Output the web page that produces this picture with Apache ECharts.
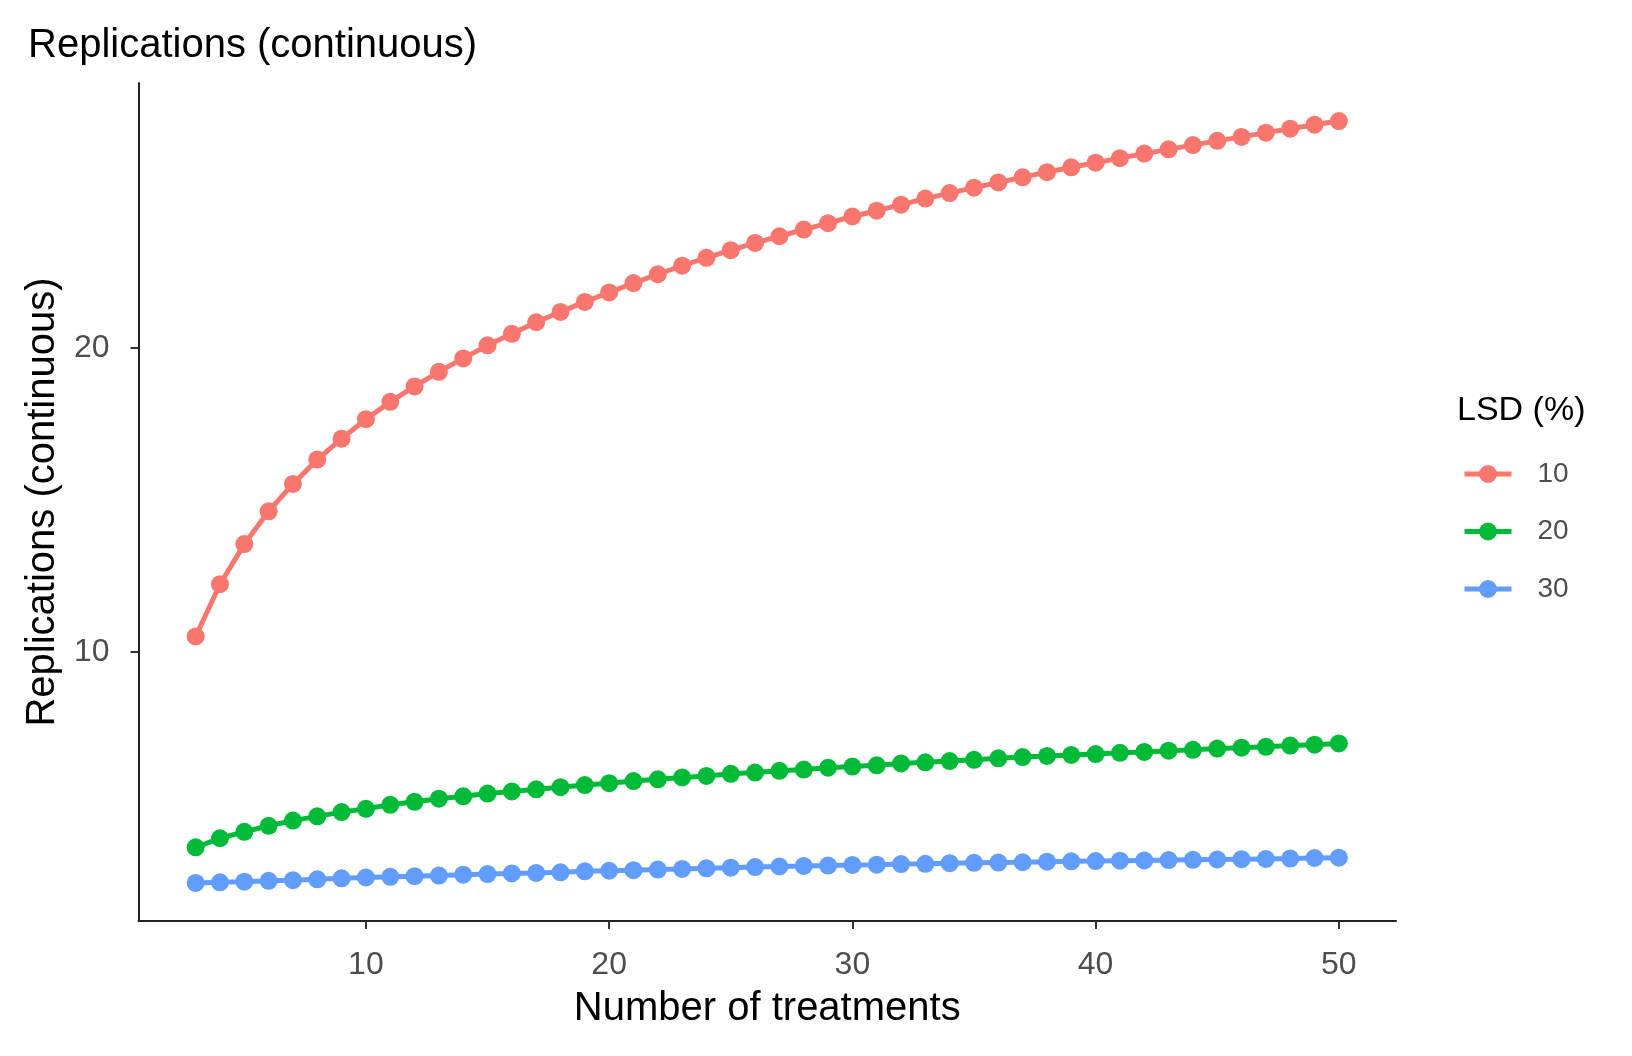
<!DOCTYPE html>
<html>
<head>
<meta charset="utf-8">
<script src="https://cdn.jsdelivr.net/npm/echarts@6/dist/echarts.min.js"></script>
<style>
html,body{margin:0;padding:0;background:#fff;}
#chart{width:1632px;height:1056px;}
</style>
</head>
<body>
<div id="chart"></div>
<script>
const treatments = [3,4,5,6,7,8,9,10,11,12,13,14,15,16,17,18,19,20,21,22,23,24,25,26,27,28,29,30,31,32,33,34,35,36,37,38,39,40,41,42,43,44,45,46,47,48,49,50];
const lsd10 = [10.51,12.23,13.55,14.63,15.53,16.33,17.02,17.66,18.23,18.74,19.22,19.66,20.09,20.47,20.85,21.19,21.52,21.83,22.14,22.43,22.71,22.97,23.22,23.46,23.68,23.90,24.11,24.33,24.52,24.72,24.92,25.10,25.28,25.45,25.62,25.79,25.95,26.10,26.25,26.40,26.54,26.68,26.82,26.95,27.09,27.22,27.35,27.47];
const lsd20 = [3.57,3.87,4.08,4.28,4.45,4.59,4.73,4.84,4.97,5.07,5.17,5.25,5.34,5.41,5.48,5.55,5.62,5.68,5.75,5.81,5.87,5.92,5.99,6.03,6.09,6.13,6.19,6.23,6.27,6.33,6.37,6.41,6.45,6.50,6.54,6.58,6.61,6.64,6.68,6.71,6.75,6.78,6.82,6.85,6.88,6.92,6.95,6.99];
const lsd30 = [2.40,2.42,2.44,2.47,2.49,2.52,2.55,2.58,2.60,2.62,2.64,2.67,2.69,2.71,2.73,2.75,2.78,2.80,2.82,2.84,2.86,2.88,2.90,2.92,2.94,2.96,2.97,2.99,3.00,3.02,3.03,3.05,3.06,3.07,3.08,3.10,3.11,3.12,3.13,3.14,3.15,3.16,3.17,3.18,3.19,3.20,3.22,3.23];
const seriesNames = ['10','20','30'];
const seriesColors = ['#F8766D','#00BA38','#619CFF'];
const xTicks = [10,20,30,40,50];
const yTicks = [10,20];

const FONT = '"Liberation Sans", Arial, sans-serif';
const allY = lsd10.concat(lsd20, lsd30);
const yMinD = Math.min(...allY), yMaxD = Math.max(...allY);
const xMinD = Math.min(...treatments), xMaxD = Math.max(...treatments);
const yPad = (yMaxD - yMinD) * 0.05, xPad = (xMaxD - xMinD) * 0.05;

const values = [lsd10, lsd20, lsd30];
const series = seriesNames.map((n, i) => ({
  name: n,
  type: 'line',
  data: treatments.map((t, j) => [t, values[i][j]]),
  symbol: 'circle',
  symbolSize: 18,
  showSymbol: true,
  lineStyle: { width: 5, color: seriesColors[i] },
  itemStyle: { color: seriesColors[i] },
  emphasis: { disabled: true }
}));

const chart = echarts.init(document.getElementById('chart'), null, { renderer: 'canvas' });
chart.setOption({
  animation: false,
  backgroundColor: '#fff',
  textStyle: { fontFamily: FONT },
  title: [
    { text: 'Replications (continuous)', left: 23, top: 21,
      textStyle: { fontFamily: FONT, fontSize: 40, fontWeight: 'normal', color: '#000', lineHeight: 40 } },
    { text: 'LSD (%)', left: 1452, top: 389,
      textStyle: { fontFamily: FONT, fontSize: 34, fontWeight: 'normal', color: '#000', lineHeight: 34 } }
  ],
  legend: {
    data: seriesNames,
    orient: 'vertical',
    left: 1457,
    top: 455,
    itemWidth: 47,
    itemHeight: 22.5,
    itemGap: 29.5,
    lineStyle: { width: 5 },
    textStyle: { fontFamily: FONT, fontSize: 28, color: '#4D4D4D', lineHeight: 22, padding: [0,0,0,21] },
    selectedMode: false
  },
  grid: { left: 138.5, top: 83, right: 236, bottom: 135, containLabel: false },
  xAxis: {
    type: 'value',
    min: xMinD - xPad,
    max: xMaxD + xPad,
    name: 'Number of treatments',
    nameLocation: 'middle',
    nameGap: 68,
    nameTextStyle: { fontFamily: FONT, fontSize: 40, color: '#000', lineHeight: 40 },
    axisLine: { show: true, lineStyle: { color: '#222', width: 2 } },
    axisTick: { show: true, length: 8, lineStyle: { color: '#333', width: 2 }, customValues: xTicks },
    axisLabel: { fontFamily: FONT, fontSize: 32, color: '#4D4D4D', margin: 28, customValues: xTicks },
    splitLine: { show: false }
  },
  yAxis: {
    type: 'value',
    min: yMinD - yPad,
    max: yMaxD + yPad,
    name: 'Replications (continuous)',
    nameLocation: 'middle',
    nameGap: 76,
    nameTextStyle: { fontFamily: FONT, fontSize: 40, color: '#000', lineHeight: 40 },
    axisLine: { show: true, lineStyle: { color: '#222', width: 2 } },
    axisTick: { show: true, length: 8, lineStyle: { color: '#333', width: 2 }, customValues: yTicks },
    axisLabel: { fontFamily: FONT, fontSize: 32, color: '#4D4D4D', margin: 29, customValues: yTicks },
    splitLine: { show: false }
  },
  series: series
});
</script>
</body>
</html>
